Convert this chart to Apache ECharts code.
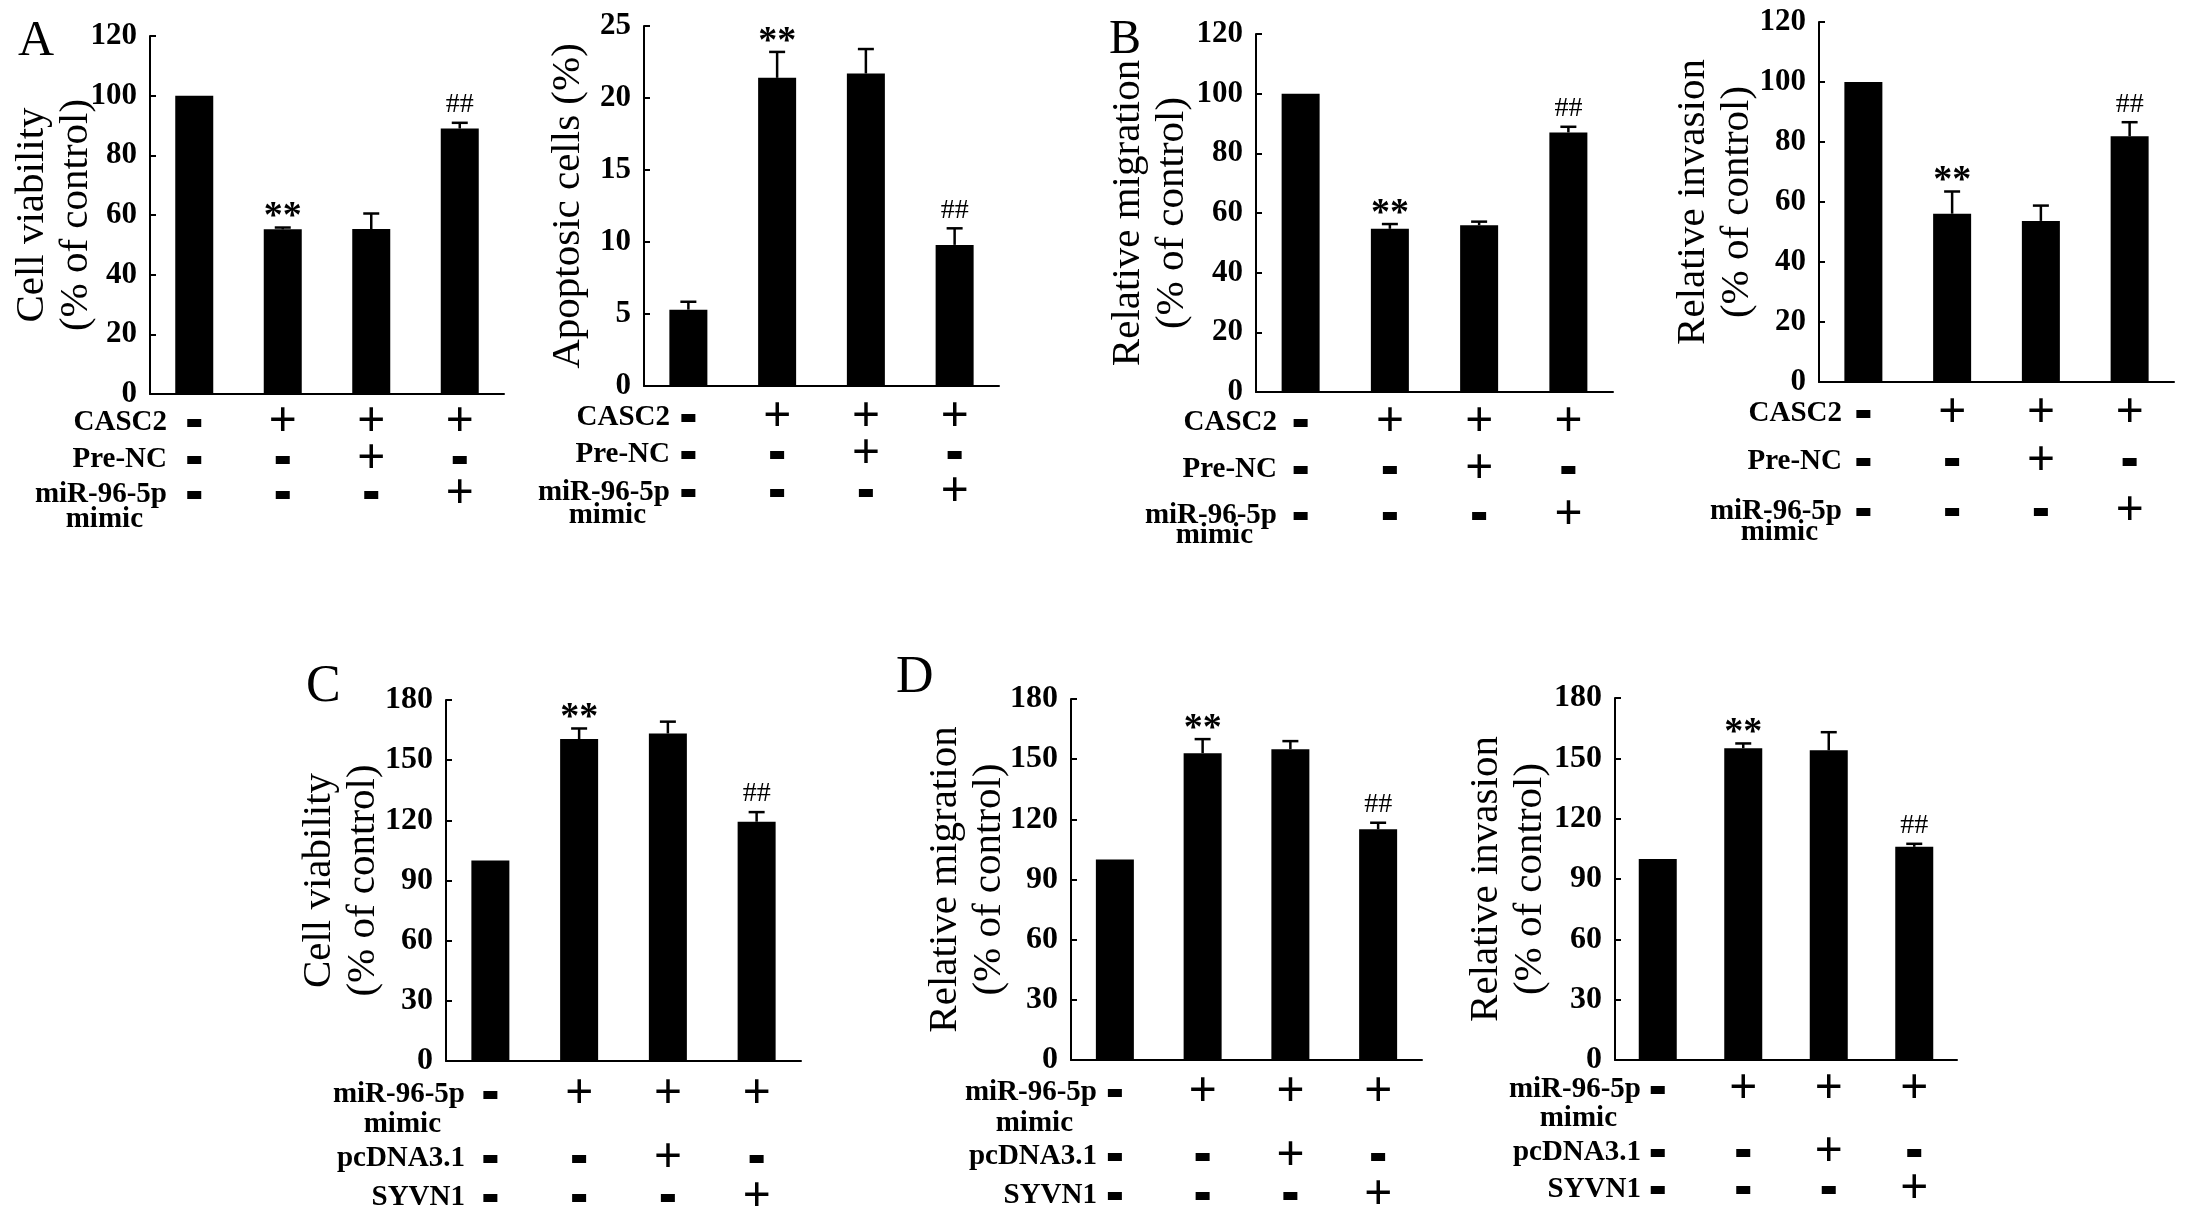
<!DOCTYPE html>
<html>
<head>
<meta charset="utf-8">
<script src="https://cdn.jsdelivr.net/npm/echarts@6/dist/echarts.min.js"></script>
<style>
html, body { margin: 0; padding: 0; background: #fff; }
#chart { width: 2187px; height: 1225px; }
</style>
</head>
<body>
<div id="chart"></div>
<script>
var groups = ['g1', 'g2', 'g3', 'g4'];

// A
var viabilityA = [100, 55.2, 55.3, 89];
var viabilityAErr = [0, 0.6, 5.2, 1.9];
var apoptosis = [5.3, 21.4, 21.7, 9.8];
var apoptosisErr = [0.55, 1.8, 1.7, 1.15];
// B
var migrationB = [100, 54.7, 55.9, 87];
var migrationBErr = [0, 1.6, 1.2, 1.9];
var invasionB = [100, 56.1, 53.7, 81.9];
var invasionBErr = [0, 7.4, 5.1, 4.7];
// C
var viabilityC = [100, 160.5, 163.3, 119.3];
var viabilityCErr = [0, 5.3, 5.9, 4.8];
// D
var migrationD = [100, 153, 155, 115];
var migrationDErr = [0, 7, 4, 3.3];
var invasionD = [100, 155, 154, 106];
var invasionDErr = [0, 2.4, 9, 1.5];

var sigMarks = ['', '**', '', '##'];

// treatment table
var casc2 = ['-', '+', '+', '+'];
var preNC = ['-', '-', '+', '-'];
var mimicAB = ['-', '-', '-', '+'];
var mimicCD = ['-', '+', '+', '+'];
var pcDNA = ['-', '-', '+', '-'];
var syvn1 = ['-', '-', '-', '+'];

var FONT = '"Liberation Serif", "Times New Roman", serif';

function rowsAB(o, gap) {
  return [
    { name: 'CASC2', signs: casc2, offset: o[0], gap: gap },
    { name: 'Pre-NC', signs: preNC, offset: o[1], gap: gap },
    { name: 'miR-96-5p', signs: mimicAB, offset: o[2], gap: gap },
    { name: 'mimic', signs: null, offset: o[3], gap: gap + 24 }
  ];
}
function rowsCD(o, gap) {
  return [
    { name: 'miR-96-5p', signs: mimicCD, offset: o[0], gap: gap },
    { name: 'mimic', signs: null, offset: o[1], gap: gap + 24 },
    { name: 'pcDNA3.1', signs: pcDNA, offset: o[2], gap: gap },
    { name: 'SYVN1', signs: syvn1, offset: o[3], gap: gap }
  ];
}

var panels = [
  { left: 150, top: 36, width: 354, height: 358, max: 120, interval: 20, title: 'Cell viability\n(% of control)',
    nameGap: 52, values: viabilityA, errs: viabilityAErr, rows: rowsAB([29, 66, 101, 126], -17), tick: 31 },
  { left: 644, top: 26, width: 355, height: 360, max: 25, interval: 5, title: 'Apoptosic cells (%)',
    nameGap: 54, values: apoptosis, errs: apoptosisErr, rows: rowsAB([32, 69, 107, 130], -26), tick: 31 },
  { left: 1256, top: 34, width: 357, height: 358, max: 120, interval: 20, title: 'Relative migration\n(% of control)',
    nameGap: 62, values: migrationB, errs: migrationBErr, rows: rowsAB([31, 78, 124, 144], -21), tick: 31 },
  { left: 1819, top: 22, width: 355, height: 360, max: 120, interval: 20, title: 'Relative invasion\n(% of control)',
    nameGap: 60, values: invasionB, errs: invasionBErr, rows: rowsAB([32, 80, 130, 151], -23), tick: 31 },
  { left: 446, top: 700, width: 355, height: 361, max: 180, interval: 30, title: 'Cell viability\n(% of control)',
    nameGap: 61, values: viabilityC, errs: viabilityCErr, rows: rowsCD([34, 64, 98, 137], -19), tick: 32 },
  { left: 1071, top: 699, width: 351, height: 361, max: 180, interval: 30, title: 'Relative migration\n(% of control)',
    nameGap: 60, values: migrationD, errs: migrationDErr, rows: rowsCD([33, 64, 97, 136], -26), tick: 32 },
  { left: 1615, top: 698, width: 342, height: 362, max: 180, interval: 30, title: 'Relative invasion\n(% of control)',
    nameGap: 63, values: invasionD, errs: invasionDErr, rows: rowsCD([30, 59, 93, 130], -26), tick: 32 }
];

function renderErr(params, api) {
  var k = api.value(0), v = api.value(1), e = api.value(2);
  var base = api.coord([k, v]);
  var top = api.coord([k, v + e]);
  var kids = [];
  if (e > 0) {
    kids.push({ type: 'line', shape: { x1: base[0], y1: base[1], x2: top[0], y2: top[1] },
      style: { stroke: '#000', lineWidth: 2.5 } });
    kids.push({ type: 'line', shape: { x1: top[0] - 8, y1: top[1], x2: top[0] + 8, y2: top[1] },
      style: { stroke: '#000', lineWidth: 2.5 } });
  }
  var m = sigMarks[params.dataIndex];
  if (m === '**') {
    kids.push({ type: 'text', x: top[0], y: top[1] - 10,
      style: { text: m, fill: '#000', font: 'bold 38px ' + FONT, align: 'center', verticalAlign: 'middle' } });
  } else if (m === '##') {
    kids.push({ type: 'text', x: top[0], y: top[1] - 18,
      style: { text: m, fill: '#000', font: '28px ' + FONT, align: 'center', verticalAlign: 'middle' } });
  }
  return { type: 'group', children: kids };
}

var option = {
  backgroundColor: '#fff',
  animation: false,
  grid: [], xAxis: [], yAxis: [], series: [],
  graphic: [
    { type: 'text', left: 18, top: 17, style: { text: 'A', font: '50px ' + FONT, fill: '#000' } },
    { type: 'text', left: 1109, top: 16, style: { text: 'B', font: '48px ' + FONT, fill: '#000' } },
    { type: 'text', left: 306, top: 661, style: { text: 'C', font: '52px ' + FONT, fill: '#000' } },
    { type: 'text', left: 896, top: 652, style: { text: 'D', font: '52px ' + FONT, fill: '#000' } }
  ]
};

panels.forEach(function (p, i) {
  option.grid.push({ left: p.left, top: p.top, width: p.width, height: p.height,
    containLabel: false, outerBoundsMode: 'none' });
  var mainX = option.xAxis.length;
  option.xAxis.push({
    type: 'category', gridIndex: i, data: groups, position: 'bottom',
    axisLine: { onZero: false, lineStyle: { color: '#000', width: 2 } },
    axisTick: { inside: true, length: 8, lineStyle: { color: '#000', width: 2 } },
    axisLabel: { show: false }, splitLine: { show: false }
  });
  p.rows.forEach(function (r) {
    option.xAxis.push({
      type: 'category', gridIndex: i, data: groups, position: 'bottom', offset: r.offset,
      axisLine: { show: false, onZero: false }, axisTick: { show: false }, splitLine: { show: false },
      name: r.name, nameLocation: 'start', nameGap: r.gap, nameMoveOverlap: false,
      nameTextStyle: { fontFamily: FONT, fontWeight: 'bold', fontSize: 29, color: '#000' },
      axisLabel: {
        show: !!r.signs, interval: 0, margin: 0, verticalAlign: 'middle', hideOverlap: false,
        formatter: function (val, idx) {
          return r.signs && r.signs[idx] === '+' ? '{p|+}' : '{d|\u00a0}';
        },
        rich: {
          p: { fontFamily: FONT, fontWeight: 'bold', fontSize: 50, color: '#000' },
          d: { width: 14, height: 8, backgroundColor: '#000' }
        }
      }
    });
  });
  option.yAxis.push({
    type: 'value', gridIndex: i, min: 0, max: p.max, interval: p.interval,
    name: p.title, nameLocation: 'middle', nameGap: p.nameGap, nameMoveOverlap: false,
    nameTextStyle: { fontFamily: FONT, fontSize: 41, lineHeight: 44, color: '#000' },
    axisLine: { show: true, lineStyle: { color: '#000', width: 2 } },
    axisTick: { show: true, inside: true, length: 6, lineStyle: { color: '#000', width: 2 } },
    axisLabel: { fontFamily: FONT, fontWeight: 'bold', fontSize: p.tick, color: '#000', margin: 13 },
    splitLine: { show: false }
  });
  option.series.push({
    type: 'bar', xAxisIndex: mainX, yAxisIndex: i, data: p.values,
    barWidth: 38, itemStyle: { color: '#000' }, silent: true
  });
  option.series.push({
    type: 'custom', xAxisIndex: mainX, yAxisIndex: i, z: 3, silent: true,
    renderItem: renderErr,
    data: p.values.map(function (v, k) { return [k, v, p.errs[k]]; })
  });
});

var chart = echarts.init(document.getElementById('chart'));
chart.setOption(option);
</script>
</body>
</html>
